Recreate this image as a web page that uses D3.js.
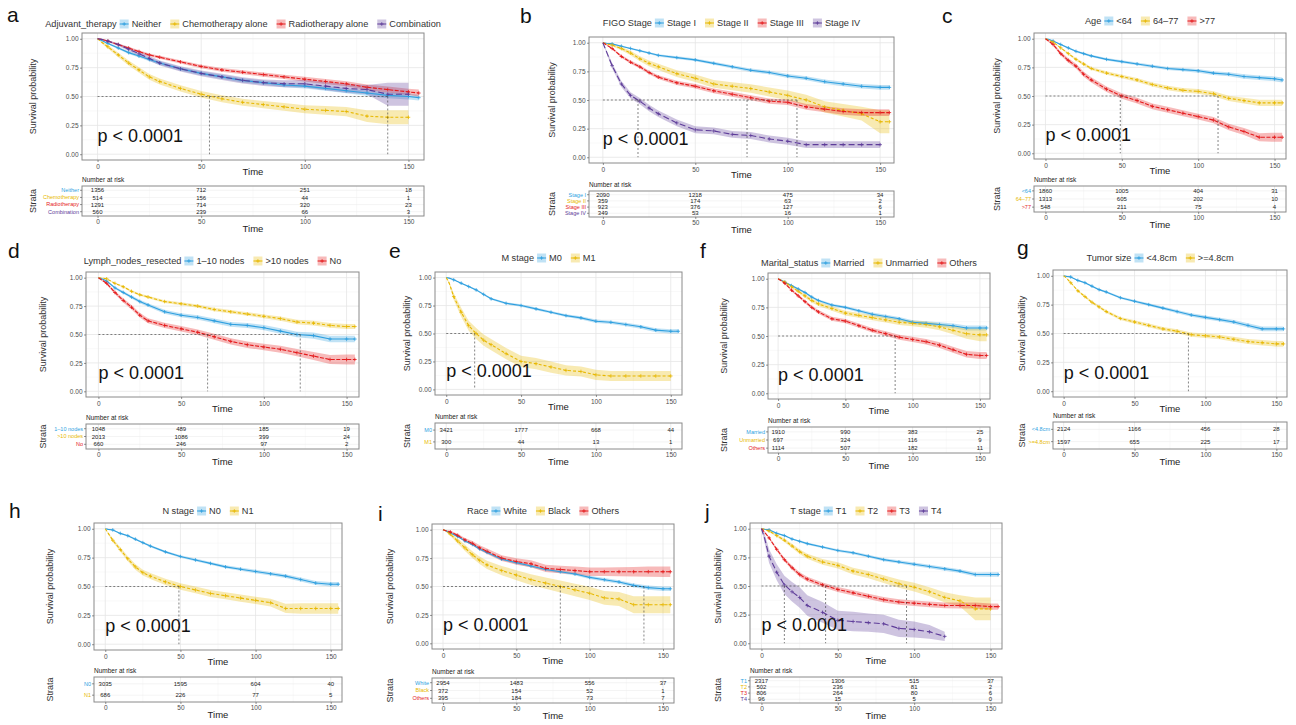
<!DOCTYPE html>
<html>
<head>
<meta charset="utf-8">
<script src="https://cdn.jsdelivr.net/npm/d3@7"></script>
<style>
  body { margin: 0; background: #fff; }
  svg text { font-family: "Liberation Sans", Arial, Helvetica, sans-serif; }
</style>
</head>
<body>
<svg id="chart" width="1296" height="725"></svg>
<script>
const times = [0, 2, 5, 10, 15, 20, 25, 30, 40, 50, 60, 70, 80, 90, 100, 110, 120, 130, 140, 150, 155];
const riskTimes = [0, 50, 100, 150];

// a - adjuvant therapy
const adjLabels = ["Neither", "Chemotherapy alone", "Radiotherapy alone", "Combination"];
const adjStrata = ["Neither", "Chemotherapy", "Radiotherapy", "Combination"];
const adjSurv = [
  [1, .985, .96, .92, .88, .85, .82, .79, .74, .70, .67, .64, .62, .60, .59, .57, .55, .53, .51, .50, .49],
  [1, .97, .93, .86, .79, .73, .67, .63, .57, .52, .48, .45, .43, .41, .39, .38, .37, .33, .32, .32, null],
  [1, .995, .98, .95, .92, .89, .86, .84, .80, .76, .73, .71, .69, .67, .65, .63, .61, .58, .56, .54, .53],
  [1, .995, .98, .95, .91, .87, .83, .79, .74, .70, .67, .64, .62, .61, .61, .59, .57, .56, .52, .52, null]
];
const adjCI = [
  [0, .005, .008, .01, .012, .013, .014, .015, .016, .017, .018, .018, .019, .02, .02, .021, .022, .023, .025, .025, .025],
  [0, .01, .015, .02, .022, .024, .025, .026, .027, .028, .03, .03, .031, .033, .035, .038, .04, .05, .06, .06, null],
  [0, .003, .005, .008, .01, .011, .012, .013, .014, .015, .016, .017, .018, .019, .02, .021, .022, .024, .026, .028, .03],
  [0, .005, .008, .012, .015, .018, .02, .021, .023, .025, .026, .027, .028, .03, .032, .035, .038, .04, .1, .1, null]
];
const adjRisk = [[1356, 712, 251, 18], [514, 156, 44, 1], [1291, 714, 320, 23], [560, 239, 66, 3]];
const adjMedian = [54, 140];

// b - FIGO stage
const figoLabels = ["Stage I", "Stage II", "Stage III", "Stage IV"];
const figoSurv = [
  [1, .995, .99, .97, .95, .93, .91, .89, .87, .85, .82, .79, .76, .74, .71, .69, .66, .64, .62, .61, .61],
  [1, .99, .98, .95, .91, .86, .82, .79, .73, .69, .64, .62, .60, .57, .54, .50, .44, .41, .38, .31, .31],
  [1, .98, .95, .88, .83, .79, .74, .70, .65, .62, .58, .55, .52, .49, .48, .44, .42, .40, .39, .39, .39],
  [1, .92, .80, .64, .54, .49, .43, .38, .30, .24, .23, .20, .19, .16, .14, .11, .11, .11, .11, .11, null]
];
const figoCI = [
  [0, .003, .004, .006, .007, .008, .009, .01, .011, .012, .013, .014, .015, .016, .017, .018, .019, .02, .02, .021, .021],
  [0, .005, .01, .015, .02, .022, .025, .027, .03, .032, .034, .035, .037, .04, .042, .045, .05, .055, .06, .1, .1],
  [0, .005, .008, .012, .014, .015, .016, .017, .018, .019, .02, .021, .022, .023, .024, .025, .026, .028, .03, .03, .03],
  [0, .015, .022, .026, .027, .028, .028, .029, .03, .03, .03, .03, .03, .03, .03, .03, .03, .03, .03, .03, null]
];
const figoRisk = [[2090, 1218, 475, 34], [359, 174, 63, 2], [923, 376, 127, 6], [349, 53, 16, 1]];
const figoMedian = [19, 78, 105];

// c - age
const ageLabels = ["<64", "64\u201377", ">77"];
const ageSurv = [
  [1, .995, .98, .95, .92, .89, .87, .85, .82, .80, .78, .76, .74, .73, .72, .70, .69, .67, .66, .65, .64],
  [1, .99, .97, .92, .87, .82, .78, .74, .70, .67, .64, .60, .57, .55, .54, .52, .48, .46, .44, .44, .44],
  [1, .98, .95, .87, .81, .76, .69, .64, .56, .50, .46, .41, .38, .35, .32, .29, .23, .19, .14, .14, .14]
];
const ageCI = [
  [0, .003, .004, .006, .007, .008, .009, .01, .011, .012, .012, .013, .014, .015, .016, .017, .018, .019, .02, .021, .022],
  [0, .004, .006, .008, .01, .012, .013, .014, .015, .016, .017, .018, .019, .02, .021, .022, .023, .025, .027, .028, .028],
  [0, .008, .012, .016, .019, .021, .022, .023, .024, .025, .025, .025, .026, .026, .026, .027, .028, .03, .035, .04, .04]
];
const ageRisk = [[1860, 1005, 404, 31], [1313, 605, 202, 10], [548, 211, 75, 4]];
const ageMedian = [49, 113];

// d - lymph nodes resected
const lymphLabels = ["1\u201310 nodes", ">10 nodes", "No"];
const lymphSurv = [
  [1, .99, .97, .91, .87, .83, .79, .76, .70, .67, .65, .62, .59, .58, .56, .53, .50, .49, .46, .46, .46],
  [1, .997, .99, .95, .92, .88, .85, .83, .79, .77, .75, .72, .70, .68, .66, .64, .61, .60, .58, .57, .57],
  [1, .98, .95, .87, .80, .74, .67, .62, .58, .55, .52, .48, .44, .41, .39, .37, .34, .31, .28, .28, .28]
];
const lymphCI = [
  [0, .004, .006, .01, .012, .014, .015, .016, .017, .018, .019, .02, .021, .022, .023, .024, .025, .027, .028, .028, .028],
  [0, .002, .004, .006, .008, .009, .01, .011, .012, .013, .014, .015, .015, .016, .017, .018, .019, .02, .021, .022, .022],
  [0, .008, .012, .016, .018, .02, .021, .022, .023, .024, .025, .026, .027, .028, .029, .03, .032, .035, .04, .045, .045]
];
const lymphRisk = [[1048, 489, 185, 19], [2013, 1086, 399, 24], [660, 246, 97, 2]];
const lymphMedian = [66, 122];

// e - M stage
const mLabels = ["M0", "M1"];
const mSurv = [
  [1, .995, .98, .95, .92, .89, .85, .81, .77, .75, .72, .69, .66, .64, .61, .60, .58, .56, .53, .52, .52],
  [1, .95, .83, .69, .57, .50, .44, .40, .32, .25, .23, .20, .17, .16, .13, .12, .12, .12, .12, .12, null]
];
const mCI = [
  [0, .002, .003, .005, .006, .007, .008, .009, .01, .011, .012, .012, .013, .014, .015, .015, .016, .017, .018, .019, .02],
  [0, .015, .03, .04, .045, .05, .05, .05, .05, .05, .05, .05, .045, .045, .045, .045, .045, .045, .045, .045, null]
];
const mRisk = [[3421, 1777, 668, 44], [300, 44, 13, 1]];
const mMedian = [19];

// f - marital status
const maritalLabels = ["Married", "Unmarried", "Others"];
const maritalSurv = [
  [1, .99, .97, .94, .91, .88, .84, .81, .77, .75, .72, .69, .67, .65, .62, .61, .60, .59, .57, .57, .57],
  [1, .99, .97, .93, .89, .85, .81, .78, .74, .70, .68, .66, .64, .62, .61, .60, .58, .55, .52, .51, .51],
  [1, .985, .96, .90, .85, .80, .75, .71, .65, .63, .59, .55, .52, .49, .47, .45, .42, .38, .34, .33, .33]
];
const maritalCI = [
  [0, .003, .005, .007, .008, .009, .01, .011, .012, .013, .014, .015, .015, .016, .017, .018, .019, .02, .021, .022, .022],
  [0, .005, .008, .012, .014, .016, .017, .018, .019, .02, .021, .022, .023, .024, .025, .027, .03, .035, .045, .055, .055],
  [0, .005, .008, .01, .012, .014, .015, .016, .017, .018, .019, .02, .021, .022, .023, .024, .025, .026, .028, .03, .03]
];
const maritalRisk = [[1910, 990, 383, 25], [697, 324, 116, 9], [1114, 507, 182, 11]];
const maritalMedian = [87];

// g - tumor size
const tumorLabels = ["<4.8cm", ">=4.8cm"];
const tumorSurv = [
  [1, .995, .99, .96, .94, .91, .88, .86, .81, .78, .75, .72, .69, .66, .64, .62, .60, .57, .54, .54, .54],
  [1, .98, .94, .87, .82, .77, .73, .69, .63, .60, .57, .54, .52, .49, .48, .47, .45, .43, .42, .41, .41]
];
const tumorCI = [
  [0, .002, .003, .005, .006, .007, .008, .009, .01, .011, .012, .013, .014, .015, .016, .017, .018, .019, .02, .021, .021],
  [0, .004, .006, .009, .01, .011, .012, .013, .014, .015, .016, .017, .017, .018, .019, .02, .021, .022, .023, .024, .024]
];
const tumorRisk = [[2124, 1166, 456, 28], [1597, 655, 225, 17]];
const tumorMedian = [88];

// h - N stage
const nLabels = ["N0", "N1"];
const nSurv = [
  [1, .995, .99, .96, .94, .91, .88, .85, .80, .76, .73, .70, .67, .65, .63, .61, .59, .56, .53, .52, .52],
  [1, .96, .90, .82, .74, .67, .62, .59, .54, .50, .47, .44, .42, .40, .38, .36, .31, .31, .31, .31, .31]
];
const nCI = [
  [0, .002, .003, .005, .006, .007, .008, .009, .01, .011, .012, .012, .013, .014, .015, .015, .016, .017, .018, .019, .019],
  [0, .01, .015, .02, .022, .024, .025, .026, .027, .028, .029, .03, .03, .031, .032, .033, .04, .045, .045, .045, .045]
];
const nRisk = [[3035, 1595, 604, 40], [686, 226, 77, 5]];
const nMedian = [49];

// i - race
const raceLabels = ["White", "Black", "Others"];
const raceSurv = [
  [1, .99, .97, .94, .90, .87, .83, .80, .74, .71, .68, .65, .63, .61, .58, .56, .54, .51, .49, .48, .48],
  [1, .99, .96, .90, .84, .78, .73, .69, .64, .60, .56, .53, .50, .47, .44, .40, .39, .34, .34, .34, .34],
  [1, .99, .98, .95, .91, .88, .84, .81, .75, .72, .70, .66, .65, .64, .63, .63, .63, .63, .63, .63, .63]
];
const raceCI = [
  [0, .002, .003, .005, .006, .007, .008, .009, .01, .011, .012, .012, .013, .014, .015, .015, .016, .017, .018, .019, .019],
  [0, .01, .015, .022, .027, .03, .033, .036, .04, .044, .047, .05, .052, .055, .058, .06, .062, .075, .075, .075, .075],
  [0, .006, .01, .014, .017, .02, .022, .024, .026, .028, .03, .032, .033, .035, .037, .038, .04, .042, .045, .047, .047]
];
const raceRisk = [[2954, 1483, 556, 37], [372, 154, 52, 1], [395, 184, 73, 7]];
const raceMedian = [80, 137];

// j - T stage
const tLabels = ["T1", "T2", "T3", "T4"];
const tSurv = [
  [1, .995, .99, .96, .94, .91, .89, .87, .84, .81, .79, .76, .73, .71, .69, .67, .65, .63, .60, .60, .60],
  [1, .995, .98, .94, .90, .85, .80, .76, .71, .68, .63, .60, .56, .52, .49, .45, .40, .37, .30, .30, null],
  [1, .97, .92, .82, .73, .66, .60, .56, .51, .47, .44, .41, .38, .36, .35, .34, .33, .33, .33, .32, .32],
  [1, .92, .76, .62, .51, .45, .40, .33, .27, .20, .19, .18, .17, .13, .12, .10, .06, null, null, null, null]
];
const tCI = [
  [0, .002, .003, .005, .006, .007, .008, .009, .01, .011, .012, .012, .013, .014, .015, .015, .016, .017, .018, .019, .019],
  [0, .005, .008, .012, .015, .018, .02, .022, .025, .027, .03, .032, .034, .036, .038, .04, .045, .05, .1, .1, null],
  [0, .006, .01, .015, .017, .018, .019, .02, .021, .022, .022, .023, .023, .024, .024, .025, .025, .026, .027, .028, .028],
  [0, .04, .06, .07, .08, .085, .09, .09, .09, .085, .085, .08, .08, .075, .07, .06, .04, null, null, null, null]
];
const tRisk = [[2317, 1306, 515, 37], [502, 236, 81, 2], [806, 264, 80, 6], [96, 15, 5, 0]];
const tMedian = [15, 42, 95];

const palette = ["#2E9FDF", "#E7B800", "#E41A1C", "#5E3C99"];
const dashes = [null, "3,2", "4,1.5", "6,3"];

// panel placement: box = [left, right, top, bottom], table = [top, bottom]
const panels = [
  {id: "a", title: "Adjuvant_therapy", labels: adjLabels, strata: adjStrata, surv: adjSurv, ci: adjCI, risk: adjRisk, med: adjMedian,
   letter: [7, 22], box: [82, 424, 33, 160], legendY: 24, ylab: 33, table: [186, 216]},
  {id: "b", title: "FIGO Stage", labels: figoLabels, strata: figoLabels, surv: figoSurv, ci: figoCI, risk: figoRisk, med: figoMedian,
   letter: [520, 23], box: [589, 894, 37, 163], legendY: 23, ylab: 552, table: [191, 217]},
  {id: "c", title: "Age", labels: ageLabels, strata: ageLabels, surv: ageSurv, ci: ageCI, risk: ageRisk, med: ageMedian,
   letter: [942, 23], box: [1034, 1286, 33, 159], legendY: 21, ylab: 997, table: [186, 212]},
  {id: "d", title: "Lymph_nodes_resected", labels: lymphLabels, strata: lymphLabels, surv: lymphSurv, ci: lymphCI, risk: lymphRisk, med: lymphMedian,
   letter: [8, 258], box: [86, 359, 272, 397], legendY: 261, ylab: 43, table: [424, 449]},
  {id: "e", title: "M stage", labels: mLabels, strata: mLabels, surv: mSurv, ci: mCI, risk: mRisk, med: mMedian,
   letter: [389, 258], box: [435, 682, 272, 395], legendY: 258, ylab: 407, table: [423, 449]},
  {id: "f", title: "Marital_status", labels: maritalLabels, strata: maritalLabels, surv: maritalSurv, ci: maritalCI, risk: maritalRisk, med: maritalMedian,
   letter: [700, 258], box: [768, 990, 273, 399], legendY: 263, ylab: 724, table: [427, 453]},
  {id: "g", title: "Tumor size", labels: tumorLabels, strata: tumorLabels, surv: tumorSurv, ci: tumorCI, risk: tumorRisk, med: tumorMedian,
   letter: [1017, 255], box: [1053, 1287, 270, 397], legendY: 258, ylab: 1022, table: [422, 449]},
  {id: "h", title: "N stage", labels: nLabels, strata: nLabels, surv: nSurv, ci: nCI, risk: nRisk, med: nMedian,
   letter: [9, 518], box: [94, 342, 523, 650], legendY: 511, ylab: 50, table: [677, 702]},
  {id: "i", title: "Race", labels: raceLabels, strata: raceLabels, surv: raceSurv, ci: raceCI, risk: raceRisk, med: raceMedian,
   letter: [378, 521], box: [432, 674, 524, 649], legendY: 511, ylab: 390, table: [678, 703]},
  {id: "j", title: "T stage", labels: tLabels, strata: tLabels, surv: tSurv, ci: tCI, risk: tRisk, med: tMedian,
   letter: [705, 519], box: [750, 1002, 523, 649], legendY: 511, ylab: 718, table: [677, 703]}
];

const svg = d3.select("#chart");
const fmtY = d3.format(".2f");

function plusMark(sel, cx, cy, col, r) {
    sel.append("path")
        .attr("d", `M${cx - r},${cy}H${cx + r}M${cx},${cy - r}V${cy + r}`)
        .attr("stroke", col)
        .attr("stroke-width", 0.8)
        .attr("fill", "none");
}

function styleAxis(ax) {
    ax.select(".domain").remove();
    ax.selectAll(".tick line").attr("stroke", "#4d4d4d").attr("stroke-width", 0.6);
    ax.selectAll(".tick text").attr("fill", "#4d4d4d").attr("font-size", 6.5);
}

function drawPanel(p) {
    const [x0, x1, y0, y1] = p.box;
    const g = svg.append("g").attr("class", "panel-" + p.id);

    const x = d3.scaleLinear().domain([-7.5, 157.5]).range([x0, x1]);
    const y = d3.scaleLinear().domain([-0.05, 1.05]).range([y1, y0]);

    // panel letter
    g.append("text")
        .attr("x", p.letter[0]).attr("y", p.letter[1])
        .attr("font-size", 21).attr("fill", "#111")
        .text(p.id);

    // grid
    const grid = g.append("g");
    [25, 75, 125].forEach(t => grid.append("line").attr("x1", x(t)).attr("x2", x(t)).attr("y1", y0).attr("y2", y1)
        .attr("stroke", "#f2f2f2").attr("stroke-width", 0.5));
    [0.125, 0.375, 0.625, 0.875].forEach(v => grid.append("line").attr("x1", x0).attr("x2", x1).attr("y1", y(v)).attr("y2", y(v))
        .attr("stroke", "#f2f2f2").attr("stroke-width", 0.5));
    [0, 50, 100, 150].forEach(t => grid.append("line").attr("x1", x(t)).attr("x2", x(t)).attr("y1", y0).attr("y2", y1)
        .attr("stroke", "#e6e6e6").attr("stroke-width", 0.8));
    [0, 0.25, 0.5, 0.75, 1].forEach(v => grid.append("line").attr("x1", x0).attr("x2", x1).attr("y1", y(v)).attr("y2", y(v))
        .attr("stroke", "#e6e6e6").attr("stroke-width", 0.8));

    // curves
    const area = d3.area()
        .x(d => x(d.t))
        .y0(d => y(Math.max(0, d.s - d.c)))
        .y1(d => y(Math.min(1, d.s + d.c)));
    const line = d3.line().x(d => x(d.t)).y(d => y(d.s));

    const series = p.surv.map((sv, k) => times
        .map((t, i) => ({t: t, s: sv[i], c: p.ci[k][i]}))
        .filter(d => d.s != null));

    series.forEach((pts, k) => {
        g.append("path").datum(pts).attr("d", area)
            .attr("fill", palette[k]).attr("fill-opacity", 0.3);
    });
    series.forEach((pts, k) => {
        g.append("path").datum(pts).attr("d", line)
            .attr("fill", "none").attr("stroke", palette[k]).attr("stroke-width", 1.1)
            .attr("stroke-dasharray", dashes[k]);
        pts.filter(d => d.t >= 5).forEach(d => plusMark(g, x(d.t), y(d.s), palette[k], 1.8));
    });

    // median survival lines
    const medG = g.append("g").attr("stroke", "#333").attr("stroke-width", 0.6).attr("stroke-dasharray", "2,2");
    medG.append("line").attr("x1", x(0)).attr("x2", x(d3.max(p.med))).attr("y1", y(0.5)).attr("y2", y(0.5));
    p.med.forEach(m => medG.append("line").attr("x1", x(m)).attr("x2", x(m)).attr("y1", y(0.5)).attr("y2", y(0)));

    // border
    g.append("rect").attr("x", x0).attr("y", y0).attr("width", x1 - x0).attr("height", y1 - y0)
        .attr("fill", "none").attr("stroke", "#8a8a8a").attr("stroke-width", 1);

    // axes
    const ay = g.append("g").attr("transform", `translate(${x0},0)`)
        .call(d3.axisLeft(y).tickValues([0, 0.25, 0.5, 0.75, 1]).tickFormat(fmtY).tickSize(2).tickPadding(1.5));
    styleAxis(ay);
    const ax = g.append("g").attr("transform", `translate(0,${y1})`)
        .call(d3.axisBottom(x).tickValues([0, 50, 100, 150]).tickSize(2).tickPadding(2));
    styleAxis(ax);

    g.append("text").attr("x", (x0 + x1) / 2).attr("y", y1 + 15)
        .attr("text-anchor", "middle").attr("font-size", 9.5).attr("fill", "#222").text("Time");
    g.append("text")
        .attr("transform", `translate(${p.ylab},${(y0 + y1) / 2}) rotate(-90)`)
        .attr("text-anchor", "middle").attr("dy", "0.35em").attr("font-size", 9).attr("fill", "#333")
        .text("Survival probability");

    // p value
    g.append("text").attr("x", x(0)).attr("y", y(0.11))
        .attr("font-size", 18).attr("fill", "#111").text("p < 0.0001");

    // legend
    const lg = g.append("g");
    let cx = 0;
    lg.append("text").attr("y", 0).attr("dy", "0.35em").attr("font-size", 9.2).attr("fill", "#333")
        .text(p.title)
        .each(function () { cx = this.getComputedTextLength() + 3; });
    p.labels.forEach((lab, k) => {
        const key = lg.append("g").attr("transform", `translate(${cx},0)`);
        key.append("rect").attr("x", 0).attr("y", -4.5).attr("width", 9).attr("height", 9)
            .attr("fill", palette[k]).attr("fill-opacity", 0.3);
        key.append("line").attr("x1", 0).attr("x2", 9).attr("y1", 0).attr("y2", 0)
            .attr("stroke", palette[k]).attr("stroke-width", 1);
        plusMark(key, 4.5, 0, palette[k], 1.8);
        let w = 0;
        lg.append("text").attr("x", cx + 12).attr("dy", "0.35em").attr("font-size", 9.2).attr("fill", "#333")
            .text(lab)
            .each(function () { w = this.getComputedTextLength(); });
        cx += 12 + w + 9;
    });
    const lw = cx - 9;
    lg.attr("transform", `translate(${(x0 + x1) / 2 - 10 - lw / 2},${p.legendY})`);

    // risk table
    const [t0, t1] = p.table;
    const rowY = d3.scalePoint().domain(d3.range(p.strata.length)).range([t0, t1]).padding(0.6);
    const tab = g.append("g");
    g.append("text").attr("x", x0).attr("y", t0 - 4).attr("font-size", 6.5).attr("fill", "#222").text("Number at risk");
    [25, 75, 125].forEach(t => tab.append("line").attr("x1", x(t)).attr("x2", x(t)).attr("y1", t0).attr("y2", t1)
        .attr("stroke", "#f2f2f2").attr("stroke-width", 0.5));
    [0, 50, 100, 150].forEach(t => tab.append("line").attr("x1", x(t)).attr("x2", x(t)).attr("y1", t0).attr("y2", t1)
        .attr("stroke", "#e6e6e6").attr("stroke-width", 0.8));
    p.strata.forEach((s, k) => tab.append("line").attr("x1", x0).attr("x2", x1).attr("y1", rowY(k)).attr("y2", rowY(k))
        .attr("stroke", "#ededed").attr("stroke-width", 0.6));
    tab.append("rect").attr("x", x0).attr("y", t0).attr("width", x1 - x0).attr("height", t1 - t0)
        .attr("fill", "none").attr("stroke", "#8a8a8a").attr("stroke-width", 1);

    p.risk.forEach((row, k) => {
        row.forEach((v, i) => {
            tab.append("text").attr("x", x(riskTimes[i])).attr("y", rowY(k)).attr("dy", "0.35em")
                .attr("text-anchor", "middle").attr("font-size", 6).attr("fill", "#222").text(v);
        });
        tab.append("text").attr("x", x0 - 3).attr("y", rowY(k)).attr("dy", "0.35em")
            .attr("text-anchor", "end").attr("font-size", 5.5).attr("fill", palette[k]).text(p.strata[k]);
        tab.append("line").attr("x1", x0 - 2).attr("x2", x0).attr("y1", rowY(k)).attr("y2", rowY(k))
            .attr("stroke", "#4d4d4d").attr("stroke-width", 0.6);
    });
    const tx = g.append("g").attr("transform", `translate(0,${t1})`)
        .call(d3.axisBottom(x).tickValues([0, 50, 100, 150]).tickSize(2).tickPadding(1));
    styleAxis(tx);
    g.append("text").attr("x", (x0 + x1) / 2).attr("y", t1 + 16)
        .attr("text-anchor", "middle").attr("font-size", 9.5).attr("fill", "#222").text("Time");
    g.append("text")
        .attr("transform", `translate(${p.ylab},${(t0 + t1) / 2}) rotate(-90)`)
        .attr("text-anchor", "middle").attr("dy", "0.35em").attr("font-size", 9).attr("fill", "#333")
        .text("Strata");
}

panels.forEach(drawPanel);
</script>
</body>
</html>
